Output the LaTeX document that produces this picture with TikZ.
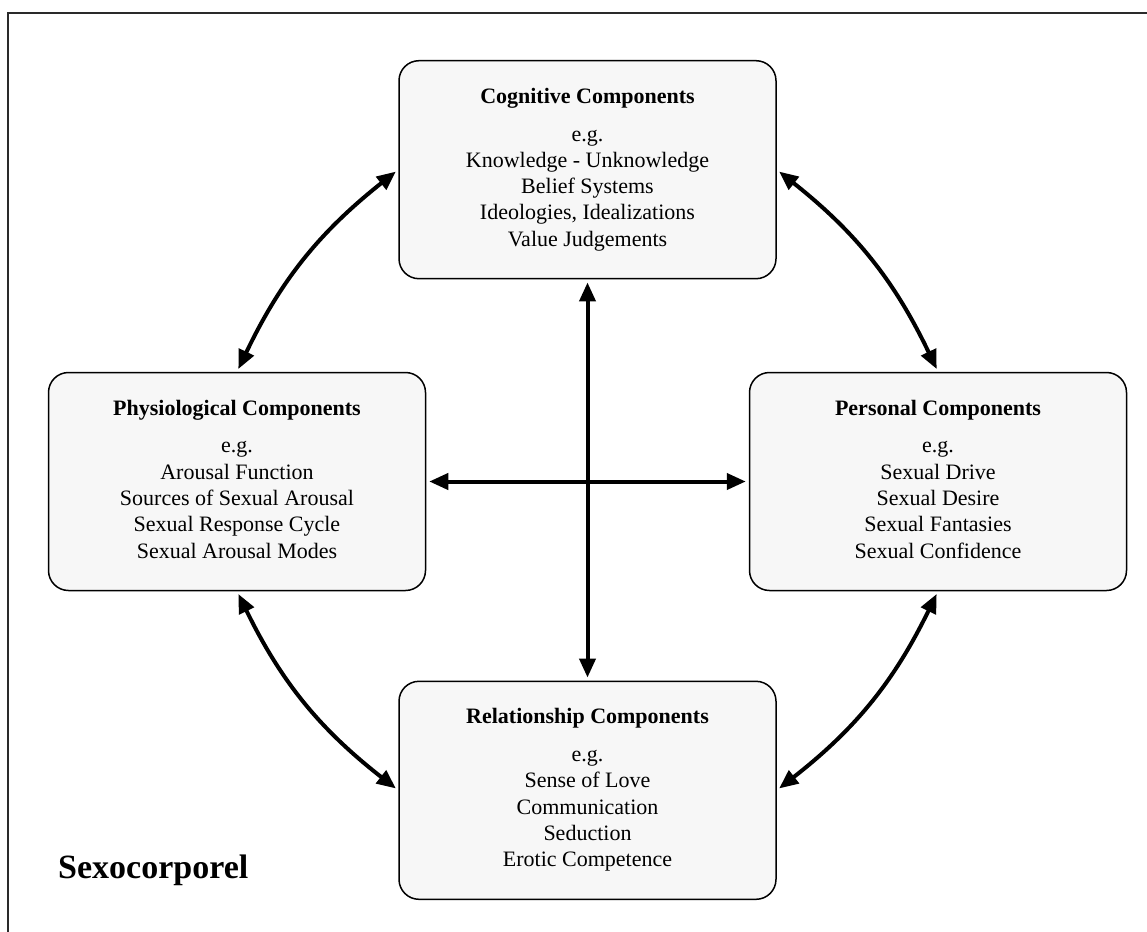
\documentclass[tikz,border=0pt]{standalone}
\usepackage{fontspec}
\setmainfont{Liberation Serif}
\usetikzlibrary{arrows.meta}
\definecolor{boxgray}{HTML}{F7F7F7}
\definecolor{framegray}{HTML}{2A2A2A}
\newcommand\cboxtext[5]{\rule{0pt}{15pt}\textbf{#1}\\[11.4pt] e.g.\\ #2\\ #3\\ #4\\ #5\rule[-5pt]{0pt}{5pt}}
\begin{document}
\begin{tikzpicture}[x=1pt,y=1pt,
  comp/.style={draw=black, line width=1.5pt, fill=boxgray, rounded corners=20pt,
    minimum width=377pt, minimum height=218pt, inner sep=0pt,
    align=center, font=\fontsize{22}{26.3}\selectfont},
  dbl/.style={line width=4pt,
    {Triangle[length=19pt,width=16pt]}-{Triangle[length=19pt,width=16pt]},
    shorten <=3pt, shorten >=3pt},
  framestyle/.style={line width=1.8pt, draw=framegray}]
\useasboundingbox (0,0) rectangle (1147,-931);
\fill[white] (0,0) rectangle (1147,-931);
\clip (0,0) rectangle (1147,-931);
\draw[framestyle] (1170,-13) -- (8,-13) -- (8,-960);

\node[comp] (cog) at (587.5,-169.7) {\cboxtext{Cognitive Components}{Knowledge - Unknowledge}{Belief Systems}{Ideologies, Idealizations}{Value Judgements}};
\node[comp] (phys) at (237,-481.5) {\cboxtext{Physiological Components}{Arousal Function}{Sources of Sexual Arousal}{Sexual Response Cycle}{Sexual Arousal Modes}};
\node[comp] (pers) at (938,-481.5) {\cboxtext{Personal Components}{Sexual Drive}{Sexual Desire}{Sexual Fantasies}{Sexual Confidence}};
\node[comp] (rel) at (587.5,-790.3) {\cboxtext{Relationship Components}{Sense of Love}{Communication}{Seduction}{Erotic Competence}};

\draw[dbl] (cog.south) -- (rel.north);
\draw[dbl] (phys.east) -- (pers.west);
\draw[dbl] (phys.north) to[bend left=13] (cog.west);
\draw[dbl] (cog.east) to[bend left=13] (pers.north);
\draw[dbl] (pers.south) to[bend left=13] (rel.east);
\draw[dbl] (phys.south) to[bend right=13] (rel.west);

\node[font=\fontsize{34}{40}\selectfont\bfseries, anchor=base west, inner sep=0pt] (brand) at (58,-878) {Sexocorporel};
\end{tikzpicture}
\end{document}
